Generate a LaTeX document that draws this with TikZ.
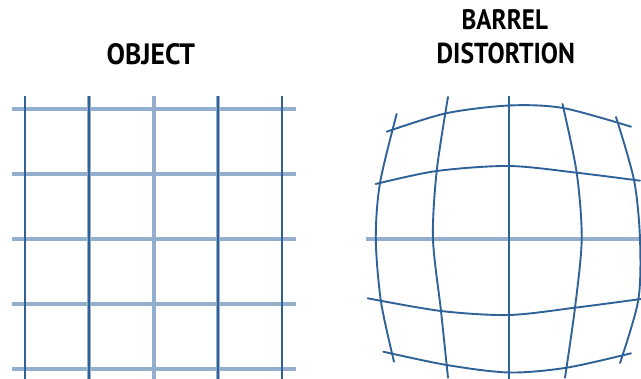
\documentclass[tikz,border=0pt]{standalone}
\usepackage{fontspec}
\setmainfont{PT Sans}
\usepackage{graphicx}
\definecolor{gdark}{RGB}{48,98,152}
\definecolor{glight}{RGB}{148,174,205}
\begin{document}
\begin{tikzpicture}[x=1pt,y=-1pt,
  darkline/.style={draw=gdark,line width=1.9pt},
  lightline/.style={draw=glight,line width=4pt},
  curveline/.style={draw=gdark,line width=1.9pt,line cap=round},
  title/.style={inner sep=0pt,anchor=base,text=black}]
\useasboundingbox (0,0) rectangle (641,379);
\begin{scope}
\clip (0,0) rectangle (641,379);
% ---------- OBJECT grid ----------
\foreach \y in {109,174,239,304,369}
  \draw[lightline] (12,\y) -- (296,\y);
\foreach \x in {89,218}
  \draw[draw=glight,line width=3.6pt] (\x,96) -- (\x,380);
\foreach \x in {25,89,218,282}
  \draw[darkline] (\x,96) -- (\x,380);
\draw[lightline] (154,96) -- (154,380);
% ---------- BARREL grid ----------
\draw[draw=glight,line width=3.6pt] (366,239) -- (642,239);
\draw[draw=gdark,line width=1.9pt] (509,96) -- (509,380);
% horizontal curves
\draw[curveline] plot[smooth] coordinates {(386.7,131.7) (446,113.3) (509,105.5) (563,108) (631,126.7)};
\draw[curveline] plot[smooth] coordinates {(375.7,184) (436.7,171) (509,166) (576.7,172.7) (640,180.7)};
\draw[curveline] plot[smooth] coordinates {(367.7,298.3) (441,311) (509,315) (575,307.7) (641,299)};
\draw[curveline] plot[smooth] coordinates {(383.3,351.7) (446.7,365) (509,372.5) (566.7,367.7) (631,353.3)};
% vertical curves
\draw[curveline] plot[smooth] coordinates {(396.7,114) (380,183) (375.8,239) (381,301.7) (394,361.7)};
\draw[curveline] plot[smooth] coordinates {(448,97) (436.7,171) (433,239) (441,311) (448,377.7)};
\draw[curveline] plot[smooth] coordinates {(562.5,104) (576.7,172.7) (581.7,239) (575,307.7) (565,377.7)};
\draw[curveline] plot[smooth] coordinates {(616,117) (634,180) (640,239) (638.3,300) (620,363)};
\end{scope}
% ---------- titles ----------
\node[title] (t1) at (150.8,64.3) {\resizebox{88.3pt}{21pt}{\bfseries OBJECT}};
\node[title] (t2) at (504.8,30) {\resizebox{86.3pt}{20pt}{\bfseries BARREL}};
\node[title] (t3) at (505.8,63.3) {\resizebox{138.3pt}{20.6pt}{\bfseries DISTORTION}};
\end{tikzpicture}
\end{document}
